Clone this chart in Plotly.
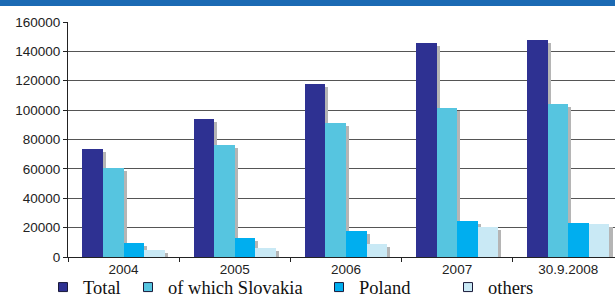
import plotly.graph_objects as go

categories = ["2004", "2005", "2006", "2007", "30.9.2008"]
series_names = ["Total", "of which Slovakia", "Poland", "others"]
total = [73500, 94000, 117500, 145500, 148000]
slovakia = [60500, 76000, 91000, 101500, 104000]
poland = [9300, 12700, 17600, 24300, 23000]
others = [4700, 6200, 8800, 20500, 22300]
y_ticks = [0, 20000, 40000, 60000, 80000, 100000, 120000, 140000, 160000]

series_values = [total, slovakia, poland, others]
colors = ["#2E3192", "#56C5E0", "#00AEEF", "#C9E9F5"]
offsets = [-0.37, -0.185, 0.0, 0.185]
bar_w = 0.185
shadow_dx = 0.028
shadow_dy = 2000

fig = go.Figure()

# shadows
for vals, off in zip(series_values, offsets):
    fig.add_trace(go.Bar(
        x=categories, y=[max(v - shadow_dy, 0) for v in vals],
        offset=off + shadow_dx, width=bar_w,
        marker=dict(color="#B5B5B5", line=dict(width=0)),
        showlegend=False, hoverinfo="skip",
    ))

# bars
for name, vals, col, off in zip(series_names, series_values, colors, offsets):
    fig.add_trace(go.Bar(
        x=categories, y=vals, name=name,
        offset=off, width=bar_w,
        marker=dict(color=col, line=dict(width=0)),
        showlegend=False,
    ))

# legend entries
legend_ids = ["legend", "legend2", "legend3", "legend4"]
for name, col, lid in zip(series_names, colors, legend_ids):
    fig.add_trace(go.Scatter(
        x=[None], y=[None], mode="markers", name=name,
        marker=dict(symbol="square", size=9, color=col,
                    line=dict(color="#1a1a3a", width=1)),
        legend=lid, showlegend=True,
    ))

plot_left = 68
plot_w = 615 - plot_left
text_px = [83, 168, 359, 488]
leg_font = dict(family="Liberation Serif, Times New Roman, serif", size=18.5, color="#111")
legends = {}
for lid, tx in zip(legend_ids, text_px):
    legends[lid] = dict(
        x=(tx - 40 - plot_left) / plot_w, xanchor="left",
        y=-0.13, yanchor="middle",
        font=leg_font, bgcolor="rgba(0,0,0,0)",
        borderwidth=0, tracegroupgap=0,
    )

tick_font = dict(family="Liberation Sans, Arial, sans-serif", size=13.5, color="#222")

fig.update_layout(
    width=615, height=297,
    margin=dict(l=plot_left, r=0, t=22, b=40, autoexpand=False),
    paper_bgcolor="white", plot_bgcolor="white",
    barmode="overlay",
    bargap=0,
    showlegend=True,
    **legends,
    xaxis=dict(
        type="category",
        range=[-0.5, 4.42],
        showgrid=False,
        showline=True, linecolor="#222", linewidth=1,
        ticks="outside", tickson="boundaries", ticklen=4, tickcolor="#222",
        tickfont=tick_font,
        automargin=False,
        fixedrange=True,
    ),
    yaxis=dict(
        range=[0, 160000],
        tickvals=y_ticks,
        ticktext=[str(v) for v in y_ticks],
        showgrid=True, gridcolor="#555555", gridwidth=1.3,
        showline=True, linecolor="#222", linewidth=1,
        ticks="outside", ticklen=4, tickcolor="#222",
        tickfont=tick_font,
        zeroline=False,
        automargin=False,
        fixedrange=True,
    ),
    shapes=[dict(type="rect", xref="paper", yref="paper",
                 x0=-plot_left / plot_w, x1=1.0,
                 y0=1 + 16 / 235, y1=1 + 22 / 235,
                 fillcolor="#1B6AB4", line=dict(width=0), layer="above")],
)

fig.write_html(
    "out.html",
    config={"displayModeBar": False},
    post_script="document.body.style.margin='0';document.body.style.overflow='hidden';",
)
